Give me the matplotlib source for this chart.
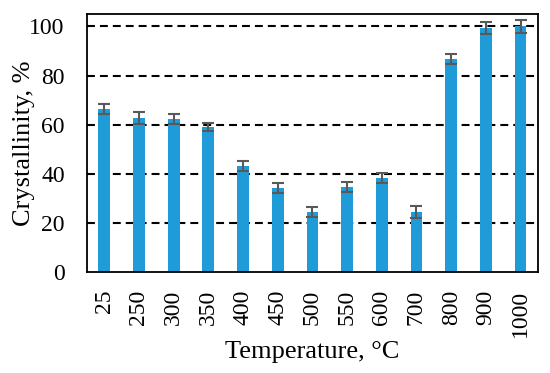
import matplotlib
matplotlib.use("Agg")
import matplotlib.pyplot as plt
import numpy as np

temps = ["25", "250", "300", "350", "400", "450", "500", "550", "600", "700", "800", "900", "1000"]
crystallinity = [66.4, 62.8, 62.2, 59.0, 43.2, 34.1, 24.5, 34.6, 38.3, 24.5, 86.8, 99.3, 100.0]
errors = [2.0, 2.5, 2.0, 1.5, 2.0, 2.0, 2.0, 2.0, 2.0, 2.5, 2.0, 2.5, 2.5]

plt.rcParams["font.family"] = ["Liberation Serif", "DejaVu Serif"]

fig = plt.figure(figsize=(5.5, 3.73), dpi=100)
ax = fig.add_axes([0.158, 0.271, 0.82, 0.691])

x = np.arange(len(temps))
ax.bar(x, crystallinity, width=0.34, color="#1f9bd7", zorder=2)
ax.errorbar(x, crystallinity, yerr=errors, fmt="none", ecolor="#595959",
            elinewidth=1.5, capsize=4.3, capthick=1.5, zorder=3)

for y in [20, 40, 60, 80, 100]:
    ax.axhline(y, color="black", linestyle=(0, (3.8, 2.4)), linewidth=1.5, zorder=1)

ax.set_xlim(-0.5, len(temps) - 0.5)
ax.set_ylim(0, 105)
ax.set_yticks([0, 20, 40, 60, 80, 100])
ax.set_xticks(x)
ax.set_xticklabels(temps, rotation=90, fontsize=17)
ax.tick_params(axis="y", labelsize=17, length=0, pad=16)
ax.tick_params(axis="x", length=0, pad=13)
for s in ax.spines.values():
    s.set_linewidth(1.3)

ax.set_xlabel("Temperature, °C", fontsize=19, labelpad=3)
ax.set_ylabel("Crystallinity, %", fontsize=19, labelpad=-4)

fig.savefig("out.png", dpi=100)
